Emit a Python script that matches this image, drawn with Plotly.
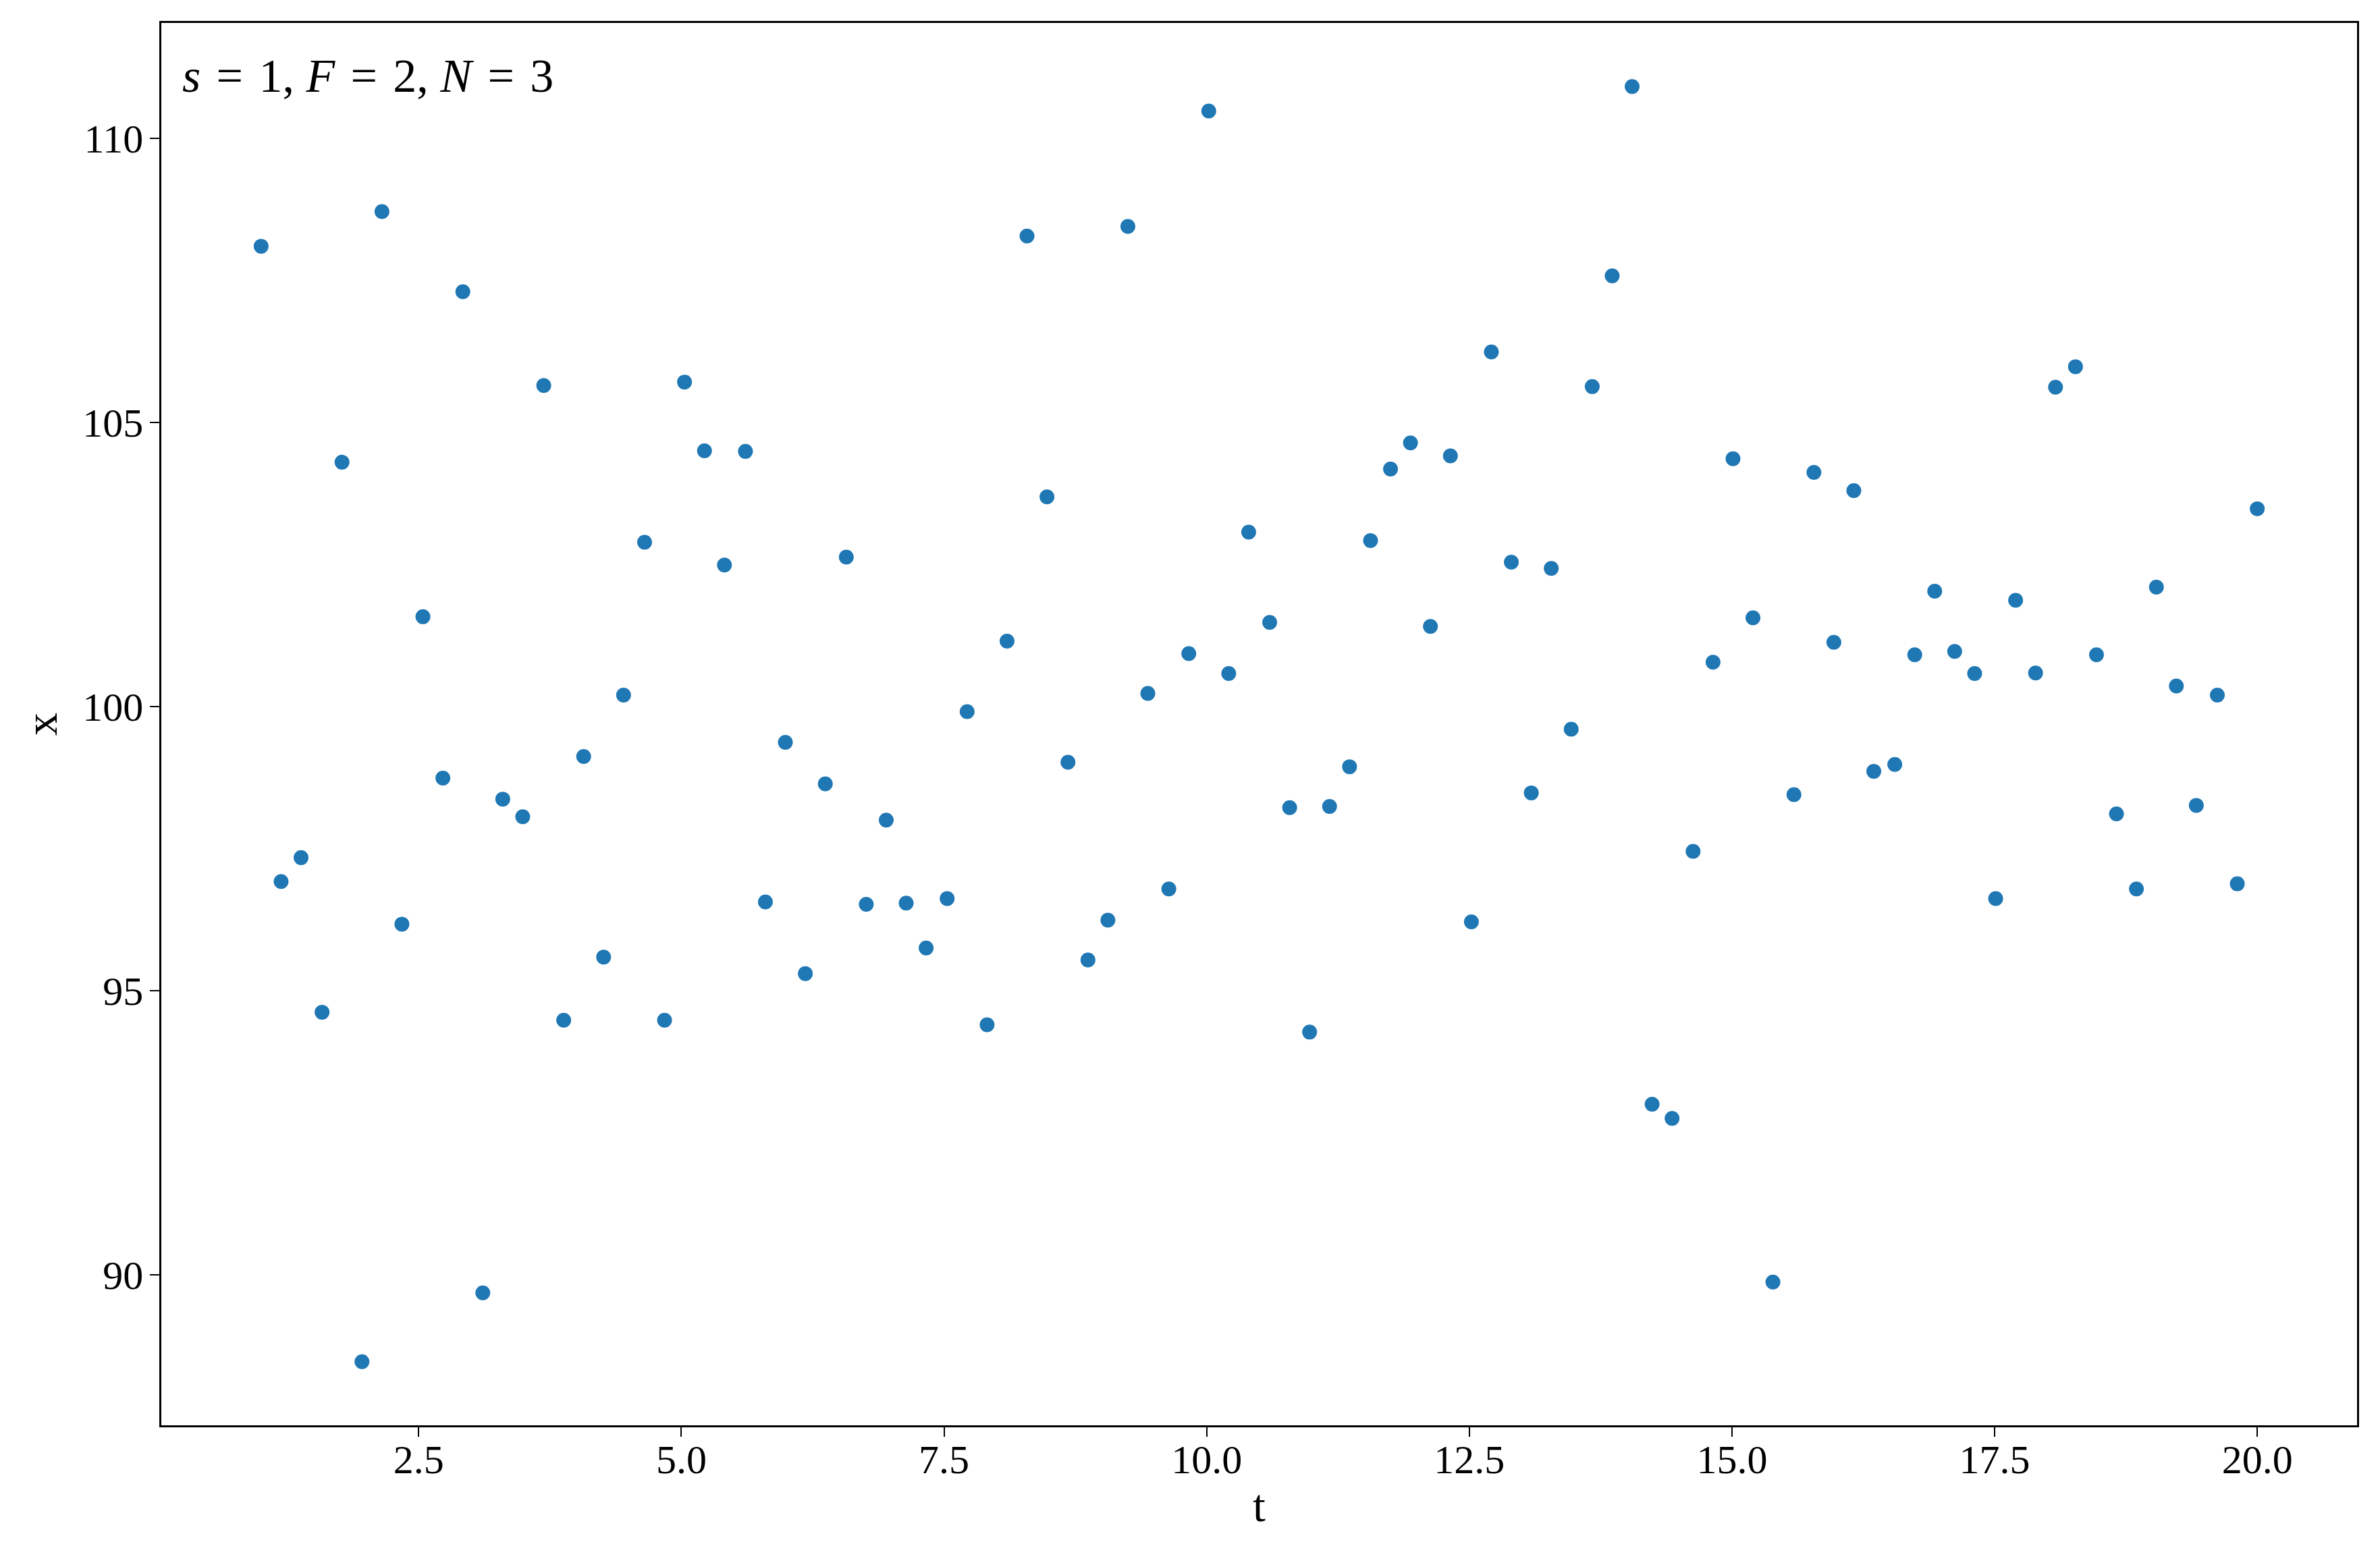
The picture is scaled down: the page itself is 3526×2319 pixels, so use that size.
import plotly.graph_objects as go

# time points (100 evenly spaced samples from 1 to 20)
t = [1.00, 1.19, 1.38, 1.58, 1.77, 1.96, 2.15, 2.34, 2.54, 2.73,
     2.92, 3.11, 3.30, 3.49, 3.69, 3.88, 4.07, 4.26, 4.45, 4.65,
     4.84, 5.03, 5.22, 5.41, 5.61, 5.80, 5.99, 6.18, 6.37, 6.57,
     6.76, 6.95, 7.14, 7.33, 7.53, 7.72, 7.91, 8.10, 8.29, 8.48,
     8.68, 8.87, 9.06, 9.25, 9.44, 9.64, 9.83, 10.02, 10.21, 10.40,
     10.60, 10.79, 10.98, 11.17, 11.36, 11.56, 11.75, 11.94, 12.13, 12.32,
     12.52, 12.71, 12.90, 13.09, 13.28, 13.47, 13.67, 13.86, 14.05, 14.24,
     14.43, 14.63, 14.82, 15.01, 15.20, 15.39, 15.59, 15.78, 15.97, 16.16,
     16.35, 16.55, 16.74, 16.93, 17.12, 17.31, 17.51, 17.70, 17.89, 18.08,
     18.27, 18.47, 18.66, 18.85, 19.04, 19.23, 19.42, 19.62, 19.81, 20.00]

x = [108.10, 96.92, 97.34, 94.62, 104.30, 88.47, 108.71, 96.17, 101.58, 98.74,
     107.30, 89.68, 98.37, 98.06, 105.65, 94.48, 99.12, 95.59, 100.20, 102.89,
     94.48, 105.71, 104.50, 102.49, 104.49, 96.56, 99.37, 95.30, 98.64, 102.63,
     96.52, 98.00, 96.54, 95.75, 96.62, 99.91, 94.40, 101.15, 108.28, 103.69,
     99.02, 95.54, 96.24, 108.45, 100.23, 96.79, 100.93, 110.48, 100.58, 103.07,
     101.48, 98.22, 94.27, 98.24, 98.94, 102.92, 104.18, 104.64, 101.41, 104.41,
     96.21, 106.24, 102.54, 98.48, 102.43, 99.60, 105.63, 107.58, 110.91, 93.00,
     92.75, 97.45, 100.78, 104.36, 101.56, 89.87, 98.45, 104.12, 101.13, 103.80,
     98.86, 98.98, 100.91, 102.03, 100.97, 100.58, 96.62, 101.87, 100.59, 105.62,
     105.98, 100.91, 98.11, 96.79, 102.10, 100.36, 98.26, 100.20, 96.88, 103.48]

xticks = [2.5, 5.0, 7.5, 10.0, 12.5, 15.0, 17.5, 20.0]
yticks = [90, 95, 100, 105, 110]

FONT = "Liberation Serif"

fig = go.Figure()
fig.add_trace(go.Scatter(
    x=t, y=x, mode="markers",
    marker=dict(color="#1f77b4", size=22, line=dict(width=0)),
    showlegend=False,
))

axis_common = dict(
    showline=True, linecolor="black", linewidth=2.5, mirror=True,
    ticks="outside", ticklen=14, tickwidth=2, tickcolor="black",
    showgrid=False, zeroline=False, automargin=False,
    tickfont=dict(family=FONT, size=60, color="black"),
)

fig.update_xaxes(
    range=[0.05, 20.95], tickvals=xticks, ticktext=[f"{v:.1f}" for v in xticks],
    ticklabelstandoff=-18,
    title=dict(text="t", font=dict(family=FONT, size=68, color="black"), standoff=12),
    **axis_common,
)
fig.update_yaxes(
    range=[87.35, 112.03], tickvals=yticks, ticktext=[str(v) for v in yticks],
    ticklabelstandoff=-2,
    title=dict(text="x", font=dict(family=FONT, size=68, color="black"), standoff=16),
    **axis_common,
)

sp = "\u2004"
fig.add_annotation(
    xref="paper", yref="paper", x=0.009, y=0.962, xanchor="left", yanchor="middle",
    text=f"<i>s</i>{sp}={sp}1, <i>F</i>{sp}={sp}2, <i>N</i>{sp}={sp}3", showarrow=False,
    font=dict(family=FONT, size=70, color="black"),
)

fig.update_layout(
    width=3526, height=2319,
    margin=dict(l=239, r=34, t=34, b=207),
    plot_bgcolor="white", paper_bgcolor="white",
)

fig.write_html("out.html", config={"displayModeBar": False},
               post_script="document.body.style.margin='0';")
